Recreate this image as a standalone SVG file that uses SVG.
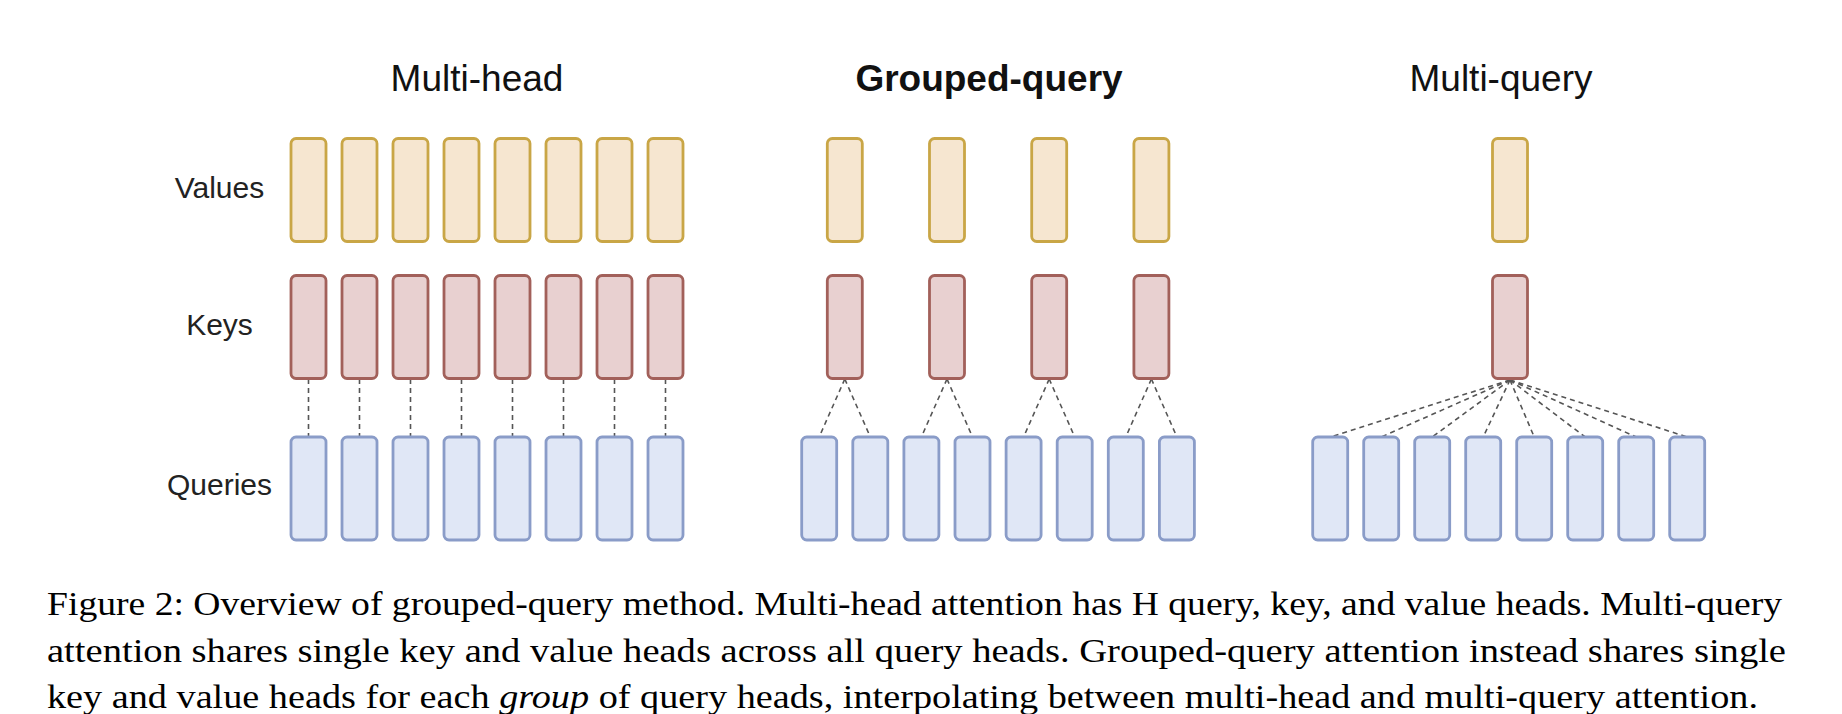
<svg xmlns="http://www.w3.org/2000/svg" width="1842" height="714" viewBox="0 0 1842 714">
<defs>
<style>
.v{fill:#f6e6d0;stroke:#c9a646;stroke-width:2.8}
.k{fill:#e8d0d0;stroke:#a2605a;stroke-width:2.8}
.q{fill:#e0e7f6;stroke:#8a9cc8;stroke-width:2.8}
.c line{stroke:#555;stroke-width:1.6;stroke-dasharray:5 4;fill:none}
.title{font-family:"Liberation Sans",Arial,sans-serif;font-size:37px;fill:#111;text-anchor:middle}
.lab{font-family:"Liberation Sans",Arial,sans-serif;font-size:30px;fill:#222;text-anchor:middle}
.cap{font-family:"Liberation Serif","Times New Roman",serif;font-size:33px;fill:#000}
</style>
<rect id="rv" width="35" height="103" rx="5" class="v"/>
<rect id="rk" width="35" height="103" rx="5" class="k"/>
<rect id="rq" width="35" height="103" rx="5" class="q"/>
</defs>
<rect width="1842" height="714" fill="#fff"/>

<g id="titles">
<text class="title" x="477" y="91">Multi-head</text>
<text class="title" x="989" y="91" font-weight="bold">Grouped-query</text>
<text class="title" x="1501" y="91">Multi-query</text>
</g>
<g id="row-labels">
<text class="lab" x="219.5" y="198">Values</text>
<text class="lab" x="219.5" y="335">Keys</text>
<text class="lab" x="219.5" y="495">Queries</text>
</g>

<g id="connectors" class="c">
<!-- multi-head -->
<line x1="308.5" y1="379" x2="308.5" y2="437"/>
<line x1="359.5" y1="379" x2="359.5" y2="437"/>
<line x1="410.5" y1="379" x2="410.5" y2="437"/>
<line x1="461.5" y1="379" x2="461.5" y2="437"/>
<line x1="512.5" y1="379" x2="512.5" y2="437"/>
<line x1="563.5" y1="379" x2="563.5" y2="437"/>
<line x1="614.5" y1="379" x2="614.5" y2="437"/>
<line x1="665.5" y1="379" x2="665.5" y2="437"/>
<!-- grouped-query -->
<line x1="844.8" y1="379" x2="819.2" y2="437"/>
<line x1="844.8" y1="379" x2="870.3" y2="437"/>
<line x1="947" y1="379" x2="921.4" y2="437"/>
<line x1="947" y1="379" x2="972.5" y2="437"/>
<line x1="1049.2" y1="379" x2="1023.6" y2="437"/>
<line x1="1049.2" y1="379" x2="1074.7" y2="437"/>
<line x1="1151.4" y1="379" x2="1125.8" y2="437"/>
<line x1="1151.4" y1="379" x2="1176.9" y2="437"/>
<!-- multi-query -->
<line x1="1510" y1="380" x2="1330.2" y2="437"/>
<line x1="1510" y1="380" x2="1381.2" y2="437"/>
<line x1="1510" y1="380" x2="1432.2" y2="437"/>
<line x1="1510" y1="380" x2="1483.2" y2="437"/>
<line x1="1510" y1="380" x2="1534.2" y2="437"/>
<line x1="1510" y1="380" x2="1585.2" y2="437"/>
<line x1="1510" y1="380" x2="1636.2" y2="437"/>
<line x1="1510" y1="380" x2="1687.2" y2="437"/>
</g>

<g id="multi-head">
<g id="mh-values">
<use href="#rv" x="291" y="138.5"/><use href="#rv" x="342" y="138.5"/><use href="#rv" x="393" y="138.5"/><use href="#rv" x="444" y="138.5"/>
<use href="#rv" x="495" y="138.5"/><use href="#rv" x="546" y="138.5"/><use href="#rv" x="597" y="138.5"/><use href="#rv" x="648" y="138.5"/>
</g>
<g id="mh-keys">
<use href="#rk" x="291" y="275.5"/><use href="#rk" x="342" y="275.5"/><use href="#rk" x="393" y="275.5"/><use href="#rk" x="444" y="275.5"/>
<use href="#rk" x="495" y="275.5"/><use href="#rk" x="546" y="275.5"/><use href="#rk" x="597" y="275.5"/><use href="#rk" x="648" y="275.5"/>
</g>
<g id="mh-queries">
<use href="#rq" x="291" y="437"/><use href="#rq" x="342" y="437"/><use href="#rq" x="393" y="437"/><use href="#rq" x="444" y="437"/>
<use href="#rq" x="495" y="437"/><use href="#rq" x="546" y="437"/><use href="#rq" x="597" y="437"/><use href="#rq" x="648" y="437"/>
</g>
</g>

<g id="grouped-query">
<g id="gq-values">
<use href="#rv" x="827.3" y="138.5"/><use href="#rv" x="929.5" y="138.5"/><use href="#rv" x="1031.7" y="138.5"/><use href="#rv" x="1133.9" y="138.5"/>
</g>
<g id="gq-keys">
<use href="#rk" x="827.3" y="275.5"/><use href="#rk" x="929.5" y="275.5"/><use href="#rk" x="1031.7" y="275.5"/><use href="#rk" x="1133.9" y="275.5"/>
</g>
<g id="gq-queries">
<use href="#rq" x="801.7" y="437"/><use href="#rq" x="852.8" y="437"/><use href="#rq" x="903.9" y="437"/><use href="#rq" x="955" y="437"/>
<use href="#rq" x="1006.1" y="437"/><use href="#rq" x="1057.2" y="437"/><use href="#rq" x="1108.3" y="437"/><use href="#rq" x="1159.4" y="437"/>
</g>
</g>

<g id="multi-query">
<g id="mq-values"><use href="#rv" x="1492.5" y="138.5"/></g>
<g id="mq-keys"><use href="#rk" x="1492.5" y="275.5"/></g>
<g id="mq-queries">
<use href="#rq" x="1312.7" y="437"/><use href="#rq" x="1363.7" y="437"/><use href="#rq" x="1414.7" y="437"/><use href="#rq" x="1465.7" y="437"/>
<use href="#rq" x="1516.7" y="437"/><use href="#rq" x="1567.7" y="437"/><use href="#rq" x="1618.7" y="437"/><use href="#rq" x="1669.7" y="437"/>
</g>
</g>

<g id="caption" class="cap">
<text x="47" y="615" textLength="1735" lengthAdjust="spacingAndGlyphs">Figure 2: Overview of grouped-query method. Multi-head attention has H query, key, and value heads. Multi-query</text>
<text x="47" y="661.5" textLength="1739" lengthAdjust="spacingAndGlyphs">attention shares single key and value heads across all query heads. Grouped-query attention instead shares single</text>
<text x="47" y="708" textLength="1711" lengthAdjust="spacingAndGlyphs">key and value heads for each <tspan font-style="italic">group</tspan> of query heads, interpolating between multi-head and multi-query attention.</text>
</g>
</svg>
